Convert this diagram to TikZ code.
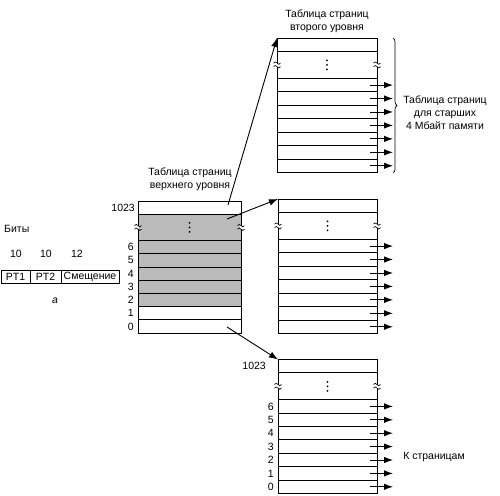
\documentclass[tikz,border=0pt]{standalone}
\usepackage{fontspec}
\setmainfont{Liberation Sans}
\usetikzlibrary{arrows.meta,decorations.pathreplacing}
\tikzset{
  lbl/.style={font=\fontsize{10.5}{13}\selectfont, inner sep=0pt, align=center},
  num/.style={font=\fontsize{10.5}{12}\selectfont, inner sep=0pt, anchor=east},
  ptr/.style={-{Latex[length=9pt,width=6.5pt]}, line width=0.9pt},
  graycell/.style={fill=black!27},
  tabline/.style={line width=0.9pt},
}
% #1 name, #2 left, #3 top, #4 width, #5 row height, #6 gray (1/0), #7 row arrows (1/0)
\newcommand\pgtab[7]{%
  \begin{scope}
  \pgfmathsetmacro\tabL{#2}
  \pgfmathsetmacro\tabT{#3}
  \pgfmathsetmacro\tabR{#2+#4}
  \pgfmathsetmacro\tabH{#5}
  \pgfmathsetmacro\tabB{#3+10*#5}
  \pgfmathsetmacro\tabC{#2+0.5*#4}
  \pgfmathsetmacro\tabG{#3+2*#5}
  \ifnum#6=1 \fill[graycell] (\tabL,\tabT+\tabH) rectangle (\tabR,\tabT+8*\tabH);\fi
  \foreach \k in {1,3,4,5,6,7,8,9}
    \draw[tabline] (\tabL,\tabT+\k*\tabH) -- (\tabR,\tabT+\k*\tabH);
  \draw[tabline] (\tabL,\tabT) rectangle (\tabR,\tabB);
  \coordinate (#1-tl) at (\tabL,\tabT);
  \coordinate (#1-top) at (\tabL,\tabT+0.5*\tabH);
  \coordinate (#1-gap) at (\tabL,\tabG);
  \foreach \i in {0,...,6}
    \coordinate (#1-r\i) at (\tabL,\tabB-\i*\tabH-0.5*\tabH);
  % dots
  \foreach \d in {-4.5,0,4.5}
    \fill (\tabC,\tabG+\d) circle (1pt);
  % break marks
  \foreach \bx in {\tabL,\tabR}{
    \fill[white] (\bx-0.8,\tabG-1.6) rectangle (\bx+0.8,\tabG+1.6);
    \foreach \by in {-1.8,1.8}
      \draw[line width=0.65pt] (\bx-3.5,\tabG+\by) sin (\bx-1.75,\tabG+\by-1.2) cos (\bx,\tabG+\by) sin (\bx+1.75,\tabG+\by+1.2) cos (\bx+3.5,\tabG+\by);
  }
  \ifnum#7=1
    \foreach \i in {0,...,6}{
      \coordinate (#1-s\i) at (\tabR-7,\tabB-\i*\tabH-0.5*\tabH);
      \coordinate (#1-e\i) at (\tabR+16,\tabB-\i*\tabH-0.5*\tabH);
      \draw[ptr] (#1-s\i) -- (#1-e\i);
    }
  \fi
  \end{scope}}
\begin{document}
\begin{tikzpicture}[x=1pt,y=-1pt]
\useasboundingbox (0,0) rectangle (500,495);

% tables
\pgtab{top}{138}{201}{103}{13.2}{1}{0}
\pgtab{sa}{277}{38}{100}{13.45}{0}{1}
\pgtab{sb}{278}{199}{99}{13.45}{0}{1}
\pgtab{sc}{278}{359.5}{99}{13.4}{0}{1}

% labels of the top-level table
\node[num] (t1023) at (135,207.6) {1023};
\foreach \i in {0,...,6}
  \node[num] (tn\i) at ([xshift=-4pt]top-r\i) {\i};

% labels of the lowest table
\node[num] (c1023) at (266,366.2) {1023};
\foreach \i in {0,...,6}
  \node[num] (cn\i) at ([xshift=-4pt]sc-r\i) {\i};

% pointers from the top-level table
\coordinate (p1) at (228,205);
\coordinate (p2) at (227,219);
\coordinate (p3) at (227,327);
\draw[ptr] (p1) -- (sa-tl);
\draw[ptr] (p2) -- (sb-tl);
\draw[ptr] (p3) -- (sc-tl);

% titles
\node[lbl] (ttop) at (190,179) {Таблица страниц\\верхнего уровня};
\node[lbl] (tsa) at (327,21) {Таблица страниц\\второго уровня};
\node[lbl] (tbr) at (445,113) {Таблица страниц\\для старших\\4 Мбайт памяти};
\node[lbl] (tpg) at (434,457) {К страницам};

% brace
\coordinate (b1) at (393,38);
\coordinate (b2) at (393,173);
\draw[line width=0.7pt, decorate, decoration={brace, amplitude=4pt}] (b1) -- (b2);

% address format
\node[lbl, anchor=west] (bits) at (4,229) {Биты};
\node[lbl] (n1) at (16,254) {10};
\node[lbl] (n2) at (46,254) {10};
\node[lbl] (n3) at (77,254) {12};
\draw[tabline] (1,270) rectangle (119,283);
\draw[tabline] (30,270) -- (30,283);
\draw[tabline] (61,270) -- (61,283);
\node[lbl] (f1) at (15.5,276.5) {PT1};
\node[lbl] (f2) at (45.5,276.5) {PT2};
\node[lbl] (f3) at (90,276.5) {Смещение};
\node[lbl] (fa) at (55,300.5) {\itshape а};
\end{tikzpicture}
\end{document}
